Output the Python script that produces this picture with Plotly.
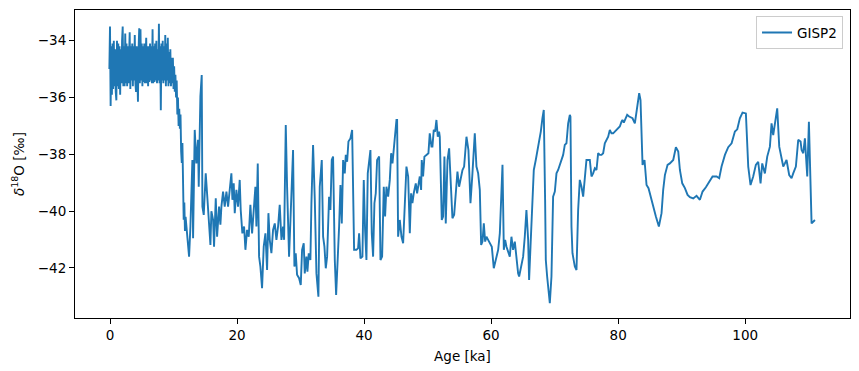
import plotly.graph_objects as go

# ---- Holocene / deglaciation (high resolution) ----
hol_age = [-0.1, 0.0, 0.1, 0.2, 0.3, 0.4, 0.5, 0.6, 0.7, 0.8, 0.9,
           1.0, 1.1, 1.2, 1.3, 1.4, 1.5, 1.6, 1.7, 1.8, 1.9,
           2.0, 2.1, 2.2, 2.3, 2.4, 2.5, 2.6, 2.7, 2.8, 2.9,
           3.0, 3.1, 3.2, 3.3, 3.4, 3.5, 3.6, 3.7, 3.8, 3.9,
           4.0, 4.1, 4.2, 4.3, 4.4, 4.5, 4.6, 4.7, 4.8, 4.9,
           5.0, 5.1, 5.2, 5.3, 5.4, 5.5, 5.6, 5.7, 5.8, 5.9,
           6.0, 6.1, 6.2, 6.3, 6.4, 6.5, 6.6, 6.7, 6.8, 6.9,
           7.0, 7.1, 7.2, 7.3, 7.4, 7.5, 7.6, 7.7, 7.8, 7.9,
           8.0, 8.1, 8.2, 8.3, 8.4, 8.5, 8.6, 8.7, 8.8, 8.9,
           9.0, 9.1, 9.2, 9.3, 9.4, 9.5, 9.6, 9.7, 9.8, 9.9,
           10.0, 10.1, 10.2, 10.3, 10.4, 10.5, 10.6, 10.7, 10.8, 10.9,
           11.0, 11.1, 11.2, 11.3, 11.4, 11.5, 11.6, 11.7, 11.8, 11.9]
hol_val = [-35.0, -33.5, -36.3, -34.2, -35.9, -34.1, -35.7, -34.0, -35.6, -34.3, -35.8,
           -36.1, -34.0, -35.6, -34.1, -35.7, -34.2, -35.9, -34.3, -35.5, -34.0,
           -33.5, -35.6, -34.2, -35.6, -33.75, -35.5, -34.1, -35.6, -34.2, -35.5,
           -34.0, -33.7, -35.7, -34.2, -35.4, -34.1, -35.6, -34.2, -35.4, -33.8,
           -35.5, -35.8, -34.2, -35.4, -36.15, -34.3, -33.56, -35.5, -33.6, -35.4,
           -34.1, -35.6, -34.2, -35.45, -34.1, -35.5, -34.3, -33.9, -35.5, -34.2,
           -35.6, -34.2, -35.45, -34.1, -35.4, -34.2, -35.5, -33.6, -35.5, -34.2,
           -35.45, -34.1, -35.4, -34.0, -35.5, -34.3, -35.4, -33.4, -35.5, -34.2,
           -36.45, -34.1, -35.4, -34.0, -35.5, -34.2, -35.4, -33.8, -35.6, -34.1,
           -35.4, -33.9, -35.6, -34.4, -35.5, -34.3, -35.6, -34.6, -35.5, -34.6,
           -35.7, -34.9, -35.8, -35.2, -36.0, -35.4, -36.6, -36.0, -37.0, -36.4,
           -37.1, -36.6, -37.9, -38.3, -37.6, -39.5, -40.3, -39.7, -40.7, -40.2]

# ---- Glacial 12-29 ka ----
gla1_age = [12.03, 12.45, 12.66, 12.97, 13.08, 13.34, 13.6, 13.86, 13.97, 14.23,
            14.44, 14.55, 14.76, 15.07, 15.28, 15.6, 15.81, 15.96, 16.23, 16.38,
            16.65, 16.86, 17.17, 17.38, 17.54, 17.8, 18.06, 18.33, 18.59, 18.85,
            19.11, 19.27, 19.48, 19.64, 19.9, 20.16, 20.42, 20.58, 20.84, 21.11,
            21.32, 21.58, 21.84, 22.1, 22.37, 22.63, 22.89, 23.05, 23.26, 23.47,
            23.68, 23.94, 24.2, 24.47, 24.73, 24.94, 25.15, 25.41, 25.67, 25.94,
            26.2, 26.46, 26.72, 26.99, 27.25, 27.41, 27.67, 27.88, 28.19, 28.4,
            28.67, 28.82]
gla1_val = [-40.5, -41.6, -40.54, -38.2, -40.95, -37.14, -38.32, -37.49, -39.14, -35.97,
            -35.21, -39.84, -40.13, -38.67, -39.37, -40.54, -41.19, -40.0, -40.31, -41.25,
            -39.55, -40.9, -39.84, -40.48, -39.84, -39.31, -39.84, -39.31, -39.84, -39.25,
            -38.67, -39.6, -39.02, -40.07, -39.25, -39.84, -38.9, -39.96, -40.78, -40.54,
            -41.36, -40.66, -40.9, -39.78, -40.78, -39.96, -39.14, -40.54, -38.32, -41.6,
            -41.95, -42.71, -41.25, -40.78, -42.07, -40.07, -41.01, -41.48, -40.66, -40.43,
            -41.01, -40.54, -39.78, -41.01, -40.54, -41.01, -36.97, -39.14, -41.6, -40.37,
            -38.32, -37.85]

# ---- Glacial 29-47 ka ----
gla2_age = [29.03, 29.24, 29.45, 29.77, 30.03, 30.24, 30.5, 30.66, 30.92, 31.08,
            31.29, 31.55, 31.71, 31.97, 32.24, 32.5, 32.81, 33.02, 33.34, 33.55,
            33.76, 33.97, 34.18, 34.49, 34.7, 34.91, 35.12, 35.39, 35.6, 35.81,
            36.07, 36.28, 36.49, 36.7, 36.96, 37.12, 37.33, 37.54, 37.85, 38.12,
            38.43, 38.8, 39.06, 39.22, 39.43, 39.74, 39.95, 40.16, 40.37, 40.58,
            40.79, 41.0, 41.21, 41.42, 41.63, 41.84, 42.05, 42.37, 42.58, 42.84,
            43.1, 43.31, 43.52, 43.79, 44.05, 44.26, 44.47, 44.68, 44.89, 45.1,
            45.2, 45.36, 45.62, 45.89, 46.15, 46.41, 46.67, 46.94, 47.2]
gla2_val = [-41.95, -41.48, -42.24, -42.36, -42.6, -41.36, -41.13, -42.19, -41.6, -42.13,
            -41.48, -41.72, -39.72, -37.67, -39.6, -42.19, -43.01, -39.14, -38.2, -40.9,
            -41.25, -42.01, -41.6, -39.49, -39.96, -38.2, -38.08, -41.72, -42.95, -41.95,
            -40.54, -39.08, -40.43, -38.2, -38.67, -38.02, -38.26, -37.55, -37.44, -37.14,
            -41.36, -41.36, -41.3, -40.78, -41.66, -41.6, -38.9, -40.66, -41.72, -38.67,
            -38.32, -37.85, -40.78, -41.6, -39.72, -39.37, -38.2, -38.08, -41.72, -41.6,
            -39.14, -40.19, -39.14, -39.49, -38.9, -37.96, -38.32, -37.73, -37.14, -36.79,
            -36.79, -40.9, -40.31, -40.9, -41.13, -39.6, -38.43, -38.78, -40.78]

# ---- Glacial 47-63 ka ----
gla3_age = [47.4, 47.61, 47.82, 48.14, 48.35, 48.56, 48.77, 48.98, 49.08, 49.29,
            49.5, 49.82, 50.13, 50.34, 50.61, 50.76, 50.97, 51.18, 51.39, 51.6,
            51.81, 51.92, 52.23, 52.44, 52.65, 52.86, 53.13, 53.39, 53.65, 53.91,
            54.18, 54.44, 54.7, 54.96, 55.23, 55.49, 55.75, 56.12, 56.43, 56.75,
            57.06, 57.43, 57.69, 57.96, 58.22, 58.43, 58.64, 58.85, 59.06, 59.27,
            59.53, 59.79, 60.11, 60.42, 60.74, 61.11, 61.37, 61.58, 61.79, 62.0,
            62.21, 62.42, 62.68, 62.94]
gla3_val = [-39.37, -39.72, -39.37, -39.02, -39.37, -39.14, -38.78, -39.25, -38.2, -38.78,
            -38.08, -38.02, -37.96, -37.26, -37.73, -37.73, -37.14, -37.2, -36.79, -37.38,
            -37.2, -37.38, -40.31, -40.19, -38.08, -40.43, -38.2, -37.79, -39.25, -40.25,
            -40.13, -39.25, -38.61, -39.14, -38.84, -38.55, -38.43, -37.38, -37.85, -39.72,
            -38.67, -37.26, -38.43, -38.67, -39.25, -41.19, -41.07, -40.43, -41.07, -40.9,
            -41.01, -41.13, -41.25, -42.01, -41.72, -41.36, -40.78, -39.37, -38.37, -41.36,
            -41.01, -41.25, -41.42, -41.6]

# ---- Glacial 63-82 ka ----
gla4_age = [63.2, 63.46, 63.73, 63.99, 64.25, 64.41, 64.78, 65.04, 65.3, 65.56,
            65.83, 65.98, 66.2, 66.46, 66.72, 67.03, 67.3, 67.56, 67.82, 68.08,
            68.29, 68.5, 68.61, 68.82, 69.03, 69.24, 69.5, 69.76, 70.03, 70.29,
            70.55, 70.81, 71.08, 71.34, 71.6, 71.86, 72.13, 72.39, 72.49, 72.65,
            72.81, 73.18, 73.44, 73.7, 73.96, 74.23, 74.49, 74.75, 75.01, 75.28,
            75.54, 75.8, 76.06, 76.33, 76.59, 76.85, 77.11, 77.38, 77.64, 77.9,
            78.16, 78.43, 78.69, 78.95, 79.21, 79.48, 79.74, 80.0, 80.26, 80.53,
            80.68, 80.89, 81.21, 81.42, 81.73]
gla4_val = [-40.9, -41.36, -41.07, -41.72, -42.19, -42.3, -41.95, -41.6, -40.9, -39.96,
            -41.01, -42.42, -41.25, -39.96, -38.55, -38.2, -37.85, -37.61, -37.2, -36.73,
            -36.44, -39.6, -41.72, -42.3, -42.77, -43.24, -42.3, -39.49, -39.31, -38.67,
            -38.55, -38.37, -38.2, -38.02, -37.67, -37.61, -36.91, -36.61, -36.67, -40.54,
            -41.48, -41.95, -42.07, -39.96, -38.9, -39.14, -39.49, -38.78, -38.2, -38.2,
            -38.2, -38.78, -38.67, -38.49, -38.55, -37.96, -38.02, -38.02, -37.96, -37.61,
            -37.49, -37.38, -37.14, -37.26, -37.26, -37.2, -37.14, -37.08, -37.02, -36.85,
            -36.79, -36.88, -36.67, -36.61, -36.67]

# ---- Glacial / Eemian end 82-111 ka ----
gla5_age = [82.26, 82.63, 83.0, 83.31, 83.52, 83.84, 84.15, 84.47, 84.78, 85.1,
            85.52, 85.94, 86.41, 86.83, 87.09, 87.36, 87.78, 88.14, 88.67, 89.09,
            89.46, 89.72, 90.09, 90.51, 90.93, 91.3, 91.82, 92.34, 92.87, 93.29,
            93.81, 94.34, 94.86, 95.5, 95.91, 96.28, 96.81, 97.33, 97.86, 98.38,
            98.75, 99.16, 99.58, 100.11, 100.32, 100.48, 100.84, 101.26, 101.68, 102.05,
            102.42, 102.68, 103.1, 103.47, 103.89, 104.15, 104.41, 104.78, 105.04, 105.36,
            105.73, 105.99, 106.25, 106.51, 106.93, 107.3, 107.56, 107.98, 108.35, 108.72,
            108.88, 109.14, 109.4, 109.56, 109.77, 110.03, 110.45, 110.98]
gla5_val = [-36.73, -36.91, -36.32, -35.85, -36.09, -38.37, -38.2, -39.08, -39.19, -39.49,
            -39.84, -40.19, -40.54, -40.07, -39.25, -38.73, -38.37, -38.32, -38.2, -37.75,
            -37.9, -38.55, -39.02, -39.19, -39.43, -39.51, -39.55, -39.46, -39.6, -39.31,
            -39.16, -38.96, -38.78, -38.78, -38.84, -38.43, -38.02, -37.75, -37.61, -37.2,
            -37.12, -36.73, -36.53, -36.56, -37.61, -38.43, -39.08, -38.78, -38.37, -38.26,
            -39.02, -38.32, -38.67, -38.08, -37.73, -36.91, -37.32, -36.79, -36.38, -37.73,
            -38.2, -38.43, -38.32, -38.2, -38.73, -38.84, -38.67, -38.43, -37.49, -37.55,
            -37.85, -37.96, -37.44, -38.08, -38.78, -36.85, -40.43, -40.31]

age_ka = hol_age + gla1_age + gla2_age + gla3_age + gla4_age + gla5_age
d18o = hol_val + gla1_val + gla2_val + gla3_val + gla4_val + gla5_val

x_ticks = [0, 20, 40, 60, 80, 100]
y_ticks = [-42, -40, -38, -36, -34]

FONT = "DejaVu Sans"
FS = 13.5

fig = go.Figure()
fig.add_trace(go.Scatter(
    x=age_ka, y=d18o, mode="lines", name="GISP2",
    line=dict(color="#1f77b4", width=1.9),
))

axis_common = dict(
    showline=True, mirror=True, linecolor="black", linewidth=1,
    ticks="outside", ticklen=5, tickwidth=1, tickcolor="black",
    showgrid=False, zeroline=False, automargin=False,
    tickfont=dict(family=FONT, size=FS, color="black"),
)

# page body has an 8px default margin, so the figure is shrunk/offset to compensate
fig.update_layout(
    width=851, height=363,
    margin=dict(l=67, r=9, t=2, b=53),
    paper_bgcolor="white", plot_bgcolor="white",
    font=dict(family=FONT, size=FS, color="black"),
    xaxis=dict(range=[-5.51, 116.5], tickvals=x_ticks,
               title=dict(text="Age [ka]", standoff=9,
                          font=dict(family=FONT, size=FS, color="black")),
               **axis_common),
    yaxis=dict(range=[-43.76, -32.92], tickvals=y_ticks,
               title=dict(text="<i>δ</i><sup>18</sup>O [‰]", standoff=10,
                          font=dict(family=FONT, size=FS, color="black")),
               **axis_common),
    legend=dict(x=0.991, y=0.98, xanchor="right", yanchor="top",
                bgcolor="rgba(255,255,255,0.8)", bordercolor="#cccccc",
                borderwidth=1, font=dict(family=FONT, size=FS, color="black")),
    showlegend=True,
)

fig.write_html("out.html")
